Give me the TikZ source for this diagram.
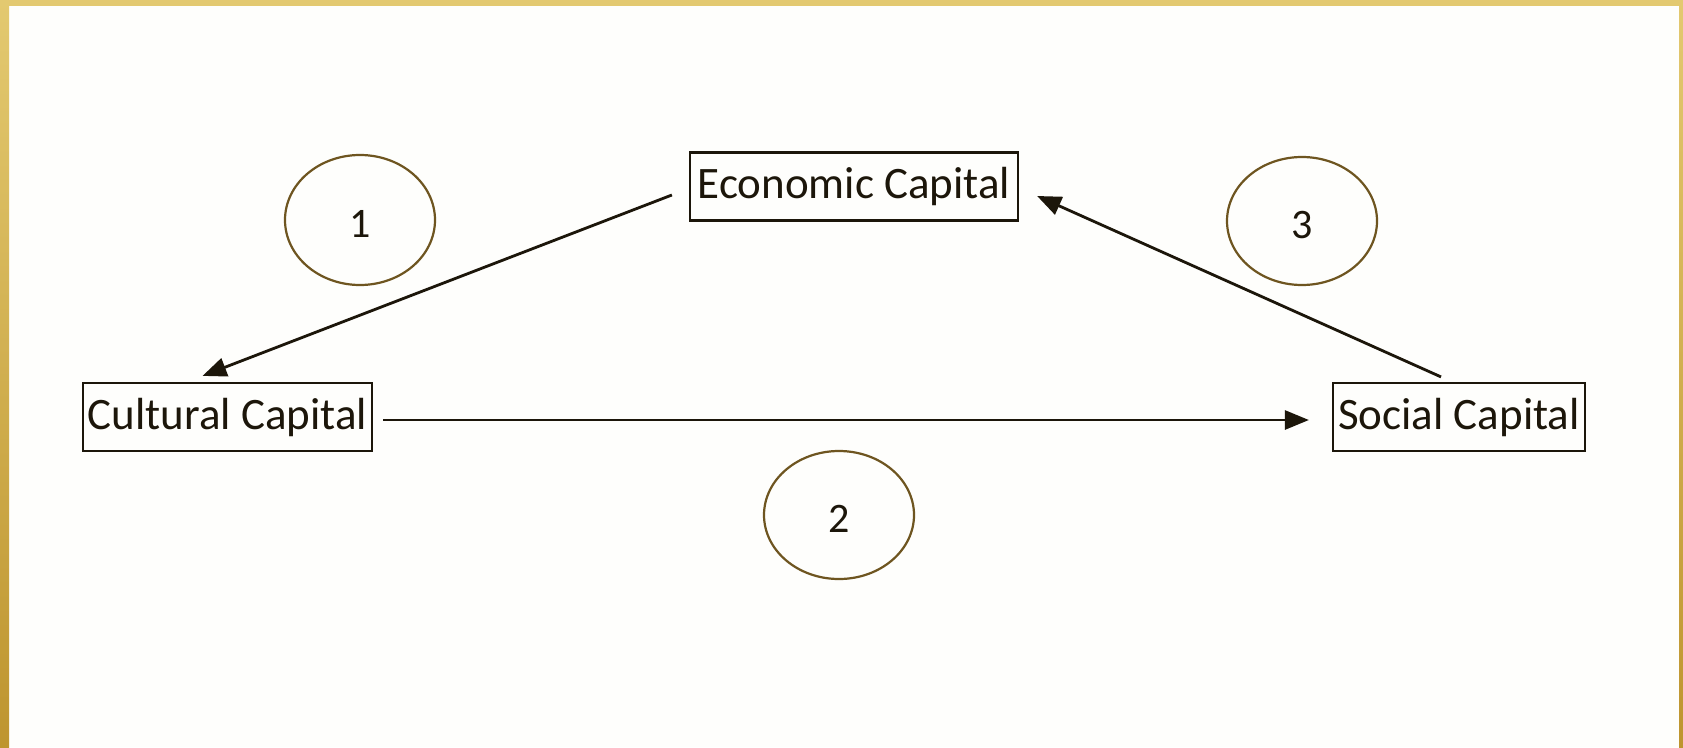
\documentclass[tikz,border=0pt]{standalone}
\usepackage{fontspec}
\setmainfont{Carlito}
\usetikzlibrary{arrows.meta,calc}
\definecolor{goldtop}{HTML}{E3C970}
\definecolor{goldbot}{HTML}{BE952F}
\definecolor{paper}{HTML}{FEFEFC}
\definecolor{ink}{HTML}{1C160A}
\definecolor{ring}{HTML}{6E5520}
\tikzset{
  capbox/.style={draw=ink, line width=2.2pt, inner sep=0pt, text=ink,
    font=\fontsize{45}{48}\selectfont, minimum height=68pt},
  numtext/.style={text=ink, font=\fontsize{42}{44}\selectfont},
  ringline/.style={draw=ring, line width=2.2pt},
  conn/.style={draw=ink, line width=2.8pt,
    -{Triangle[length=24pt,width=19pt]}}
}
\begin{document}
\begin{tikzpicture}[x=1pt,y=-1pt]
\useasboundingbox (0,0) rectangle (1683,747);
% frame
\fill[paper] (0,0) rectangle (1683,747);
\shade[top color=goldtop, bottom color=goldbot] (0,0) rectangle (9,747);
\shade[top color=goldtop, bottom color=goldbot] (1679,0) rectangle (1683,747);
\fill[goldtop] (0,0) rectangle (1683,6);
% boxes
\node[capbox, minimum width=328pt] (eco) at (854,186.5) {Economic Capital};
\node[capbox, minimum width=289pt] (cul) at (227.5,417) {Cultural Capital};
\node[capbox, minimum width=252pt] (soc) at (1459,417) {Social Capital};
% numbered ellipses
\draw[ringline] (360,220) ellipse [x radius=75, y radius=65];
\node[numtext] (n1) at (360,224) {1};
\draw[ringline] (839,515) ellipse [x radius=75, y radius=64];
\node[numtext] (n2) at (839,519) {2};
\draw[ringline] (1302,221) ellipse [x radius=75, y radius=64];
\node[numtext] (n3) at (1302,225) {3};
% connector end points
\coordinate (a1s) at ($(eco.west)+(-17,8.5)$);
\coordinate (a1e) at ($(cul.north)+(-25,-6)$);
\coordinate (a2s) at ($(cul.east)+(10,3)$);
\coordinate (a2e) at ($(soc.west)+(-23,3)$);
\coordinate (a3s) at ($(soc.north)+(-18,-5)$);
\coordinate (a3e) at ($(eco.east)+(18,9.5)$);
\draw[conn] (a1s) -- (a1e);
\draw[conn] (a2s) -- (a2e);
\draw[conn] (a3s) -- (a3e);
\end{tikzpicture}
\end{document}
